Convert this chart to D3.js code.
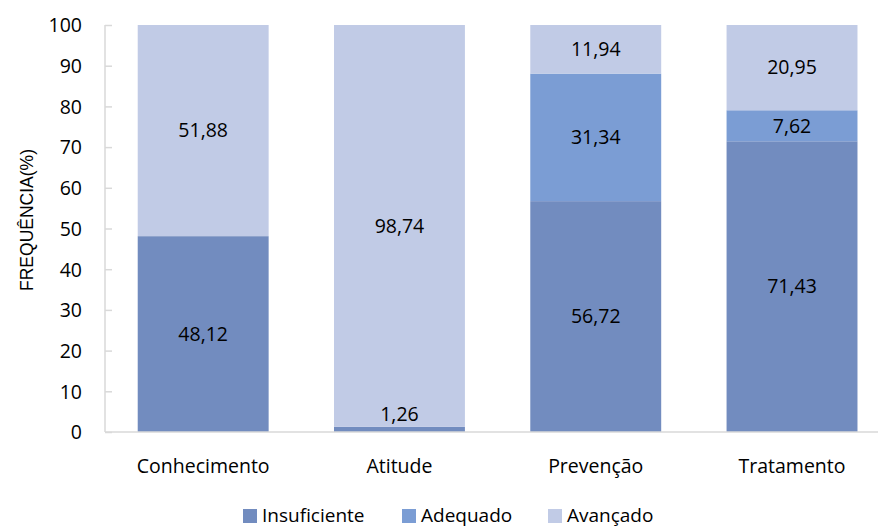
<!DOCTYPE html>
<html lang="pt">
<head>
<meta charset="UTF-8">
<script src="https://d3js.org/d3.v7.min.js"></script>
<style>
  body { margin: 0; background: #fff; }
  svg text { font-family: "Open Sans", sans-serif; fill: #000; }
</style>
</head>
<body>
<div id="chart"></div>
<script>
// data
const categories = ["Conhecimento", "Atitude", "Prevenção", "Tratamento"];
const seriesNames = ["Insuficiente", "Adequado", "Avançado"];
const insuficiente = [48.12, 1.26, 56.72, 71.43];
const adequado = [0, 0, 31.34, 7.62];
const avancado = [51.88, 98.74, 11.94, 20.95];
const yTicks = [0, 10, 20, 30, 40, 50, 60, 70, 80, 90, 100];
const colors = ["#728cbf", "#7b9dd4", "#c1cbe6"];

const W = 878, H = 528;
const plotLeft = 105, plotTop = 25, plotBottom = 432;

const svg = d3.select("#chart").append("svg")
    .attr("width", W)
    .attr("height", H);

const rows = categories.map((c, i) => ({
    cat: c,
    Insuficiente: insuficiente[i],
    Adequado: adequado[i],
    "Avançado": avancado[i]
}));

const stacked = d3.stack().keys(seriesNames)(rows);

const x = d3.scaleBand()
    .domain(categories)
    .range([plotLeft, plotLeft + 4 * 196.3])
    .paddingInner(0.333)
    .paddingOuter(0.1667);

const y = d3.scaleLinear()
    .domain([0, 100])
    .range([plotBottom, plotTop]);

// y axis
const yAxis = svg.append("g")
    .attr("transform", "translate(" + plotLeft + ",0)")
    .call(d3.axisRight(y).tickValues(yTicks).tickSize(7).tickFormat(d3.format("d")));
yAxis.select(".domain").remove();
yAxis.selectAll(".tick line").attr("stroke", "#d9d9d9").attr("stroke-width", 1.5);
yAxis.selectAll(".tick text")
    .attr("x", -23)
    .attr("text-anchor", "end")
    .attr("dy", "0.35em")
    .style("font-size", "19.5px");
svg.append("line")
    .attr("x1", plotLeft).attr("x2", plotLeft)
    .attr("y1", plotTop).attr("y2", plotBottom)
    .attr("stroke", "#d9d9d9").attr("stroke-width", 1.5);

// bars
const groups = svg.selectAll(".series")
    .data(stacked)
    .enter().append("g")
    .attr("class", "series")
    .attr("fill", (d, i) => colors[i]);

groups.selectAll("rect")
    .data(d => d)
    .enter().append("rect")
    .attr("x", d => x(d.data.cat))
    .attr("y", d => y(d[1]))
    .attr("width", x.bandwidth())
    .attr("height", d => y(d[0]) - y(d[1]));

// x axis
const xAxis = svg.append("g")
    .attr("transform", "translate(0," + plotBottom + ")")
    .call(d3.axisBottom(x).tickSize(0).tickPadding(27));
xAxis.select(".domain").remove();
xAxis.selectAll("text").style("font-size", "19.5px");
svg.append("line")
    .attr("x1", plotLeft).attr("x2", W)
    .attr("y1", plotBottom).attr("y2", plotBottom)
    .attr("stroke", "#d9d9d9").attr("stroke-width", 1.5);

// data labels
const fmt = v => v.toFixed(2).replace(".", ",");
stacked.forEach(s => {
    svg.selectAll(null)
        .data(s.filter(d => d[1] - d[0] > 0))
        .enter().append("text")
        .attr("x", d => x(d.data.cat) + x.bandwidth() / 2)
        .attr("y", d => Math.min(y((d[0] + d[1]) / 2), plotBottom - 18))
        .attr("dy", "0.35em")
        .attr("text-anchor", "middle")
        .style("font-size", "19.5px")
        .text(d => fmt(d[1] - d[0]));
});

// y title
svg.append("text")
    .attr("transform", "translate(33,220) rotate(-90)")
    .attr("text-anchor", "middle")
    .style("font-family", "'Liberation Sans', Arial, sans-serif")
    .style("font-size", "17.5px")
    .text("FREQUÊNCIA(%)");

// legend
const legendX = [243, 402, 548];
const legend = svg.selectAll(".legend")
    .data(seriesNames)
    .enter().append("g")
    .attr("class", "legend")
    .attr("transform", (d, i) => "translate(" + legendX[i] + ",509)");
legend.append("rect")
    .attr("width", 14).attr("height", 14)
    .attr("fill", (d, i) => colors[i]);
legend.append("text")
    .attr("x", 19)
    .attr("y", 6)
    .attr("dy", "0.35em")
    .style("font-size", "19px")
    .text(d => d);
</script>
</body>
</html>
